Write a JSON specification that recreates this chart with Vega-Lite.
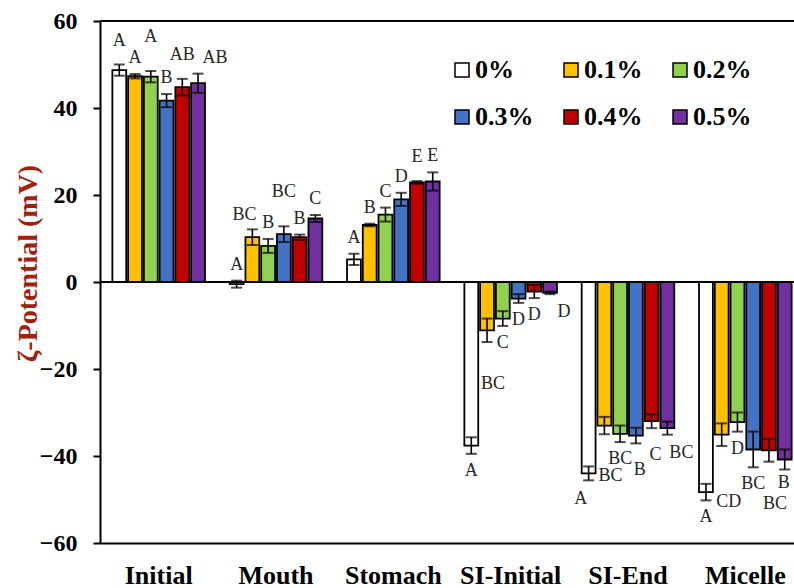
{
  "$schema": "https://vega.github.io/schema/vega-lite/v6.json",
  "width": 694,
  "height": 522,
  "autosize": {"type": "none"},
  "padding": {"left": 100, "top": 21, "right": 0, "bottom": 45},
  "background": "white",
  "config": {"view": {"stroke": null}, "text": {"font": "Liberation Serif", "fontSize": 18, "color": "#262626", "baseline": "middle"}},
  "data": {"values": [
    {"stage": "Initial", "conc": "0%", "value": 48.7, "err": 1.3, "sig": "A"},
    {"stage": "Initial", "conc": "0.1%", "value": 47.3, "err": 0.5, "sig": "A"},
    {"stage": "Initial", "conc": "0.2%", "value": 47.2, "err": 1.3, "sig": "A"},
    {"stage": "Initial", "conc": "0.3%", "value": 41.7, "err": 1.5, "sig": "B"},
    {"stage": "Initial", "conc": "0.4%", "value": 44.8, "err": 1.9, "sig": "AB"},
    {"stage": "Initial", "conc": "0.5%", "value": 45.7, "err": 2.2, "sig": "AB"},
    {"stage": "Mouth", "conc": "0%", "value": -0.5, "err": 0.8, "sig": "A"},
    {"stage": "Mouth", "conc": "0.1%", "value": 10.3, "err": 1.8, "sig": "BC"},
    {"stage": "Mouth", "conc": "0.2%", "value": 8.3, "err": 1.6, "sig": "B"},
    {"stage": "Mouth", "conc": "0.3%", "value": 11.0, "err": 1.8, "sig": "BC"},
    {"stage": "Mouth", "conc": "0.4%", "value": 10.3, "err": 0.6, "sig": "B"},
    {"stage": "Mouth", "conc": "0.5%", "value": 14.6, "err": 0.8, "sig": "C"},
    {"stage": "Stomach", "conc": "0%", "value": 5.2, "err": 1.3, "sig": "A"},
    {"stage": "Stomach", "conc": "0.1%", "value": 13.1, "err": 0.3, "sig": "B"},
    {"stage": "Stomach", "conc": "0.2%", "value": 15.5, "err": 1.6, "sig": "C"},
    {"stage": "Stomach", "conc": "0.3%", "value": 19.0, "err": 1.5, "sig": "D"},
    {"stage": "Stomach", "conc": "0.4%", "value": 22.9, "err": 0.3, "sig": "E"},
    {"stage": "Stomach", "conc": "0.5%", "value": 23.1, "err": 2.1, "sig": "E"},
    {"stage": "SI-Initial", "conc": "0%", "value": -37.6, "err": 1.9, "sig": "A"},
    {"stage": "SI-Initial", "conc": "0.1%", "value": -11.1, "err": 2.7, "sig": "BC"},
    {"stage": "SI-Initial", "conc": "0.2%", "value": -8.4, "err": 1.7, "sig": "C"},
    {"stage": "SI-Initial", "conc": "0.3%", "value": -3.8, "err": 1.0, "sig": "D"},
    {"stage": "SI-Initial", "conc": "0.4%", "value": -2.2, "err": 1.5, "sig": "D"},
    {"stage": "SI-Initial", "conc": "0.5%", "value": -2.5, "err": 0.3, "sig": "D"},
    {"stage": "SI-End", "conc": "0%", "value": -44.0, "err": 1.6, "sig": "A"},
    {"stage": "SI-End", "conc": "0.1%", "value": -33.0, "err": 2.0, "sig": "BC"},
    {"stage": "SI-End", "conc": "0.2%", "value": -34.9, "err": 1.9, "sig": "BC"},
    {"stage": "SI-End", "conc": "0.3%", "value": -35.3, "err": 1.8, "sig": "B"},
    {"stage": "SI-End", "conc": "0.4%", "value": -32.0, "err": 1.6, "sig": "C"},
    {"stage": "SI-End", "conc": "0.5%", "value": -33.6, "err": 1.5, "sig": "BC"},
    {"stage": "Micelle", "conc": "0%", "value": -48.3, "err": 1.9, "sig": "A"},
    {"stage": "Micelle", "conc": "0.1%", "value": -35.1, "err": 2.6, "sig": "CD"},
    {"stage": "Micelle", "conc": "0.2%", "value": -32.2, "err": 2.2, "sig": "D"},
    {"stage": "Micelle", "conc": "0.3%", "value": -38.5, "err": 4.1, "sig": "BC"},
    {"stage": "Micelle", "conc": "0.4%", "value": -38.7, "err": 2.6, "sig": "BC"},
    {"stage": "Micelle", "conc": "0.5%", "value": -40.8, "err": 2.3, "sig": "B"}
  ]},
  "transform": [
    {"calculate": "datum.value - datum.err", "as": "lo"},
    {"calculate": "datum.value + datum.err", "as": "hi"},
    {"calculate": "datum.stage + '|' + datum.conc", "as": "key"}
  ],
  "encoding": {
    "x": {
      "field": "stage", "type": "nominal",
      "sort": ["Initial", "Mouth", "Stomach", "SI-Initial", "SI-End", "Micelle"],
      "scale": {"range": [0, 704], "paddingInner": 0.2, "paddingOuter": 0.1},
      "axis": {
        "title": null, "labelAngle": 0, "ticks": false, "tickSize": 0,
        "domainColor": "black", "domainWidth": 2,
        "labelFont": "Liberation Serif", "labelFontWeight": "bold", "labelFontSize": 26,
        "labelColor": "black", "labelPadding": 19
      }
    },
    "xOffset": {
      "field": "conc", "type": "nominal",
      "sort": ["0%", "0.1%", "0.2%", "0.3%", "0.4%", "0.5%"],
      "scale": {"paddingInner": 0.12, "paddingOuter": 0.04}
    }
  },
  "layer": [
    {
      "mark": {"type": "bar", "stroke": "black", "strokeWidth": 1.8},
      "encoding": {
        "y": {
          "field": "value", "type": "quantitative",
          "scale": {"domain": [-60, 60], "nice": false},
          "axis": {
            "values": [-60, -40, -20, 0, 20, 40, 60], "grid": false,
            "domainColor": "black", "domainWidth": 2,
            "tickColor": "black", "tickWidth": 2, "tickSize": 7,
            "labelFont": "Liberation Serif", "labelFontWeight": "bold", "labelFontSize": 24,
            "labelColor": "black", "labelPadding": 16,
            "title": "ζ-Potential (mV)",
            "titleFont": "Liberation Serif", "titleFontWeight": "bold", "titleFontSize": 28,
            "titleColor": "#A3200F", "titleX": -72, "titleY": 242, "titleBaseline": "middle"
          }
        },
        "fill": {
          "field": "conc", "type": "nominal",
          "sort": ["0%", "0.1%", "0.2%", "0.3%", "0.4%", "0.5%"],
          "scale": {
            "domain": ["0%", "0.1%", "0.2%", "0.3%", "0.4%", "0.5%"],
            "range": ["#FFFFFF", "#FFC000", "#92D050", "#4472C4", "#C00000", "#7030A0"]
          },
          "legend": {
            "title": null, "orient": "none", "legendX": 349, "legendY": 36,
            "columns": 3, "direction": "horizontal",
            "symbolType": "square", "symbolSize": 196,
            "symbolStrokeColor": "black", "symbolStrokeWidth": 1.5, "symbolOpacity": 1,
            "labelFont": "Liberation Serif", "labelFontWeight": "bold", "labelFontSize": 26,
            "labelColor": "black", "labelOffset": 0, "columnPadding": 24, "rowPadding": 21
          }
        }
      }
    },
    {
      "mark": {"type": "rule", "color": "black", "strokeWidth": 1.6},
      "encoding": {
        "y": {"field": "lo", "type": "quantitative"},
        "y2": {"field": "hi"}
      }
    },
    {
      "mark": {"type": "tick", "orient": "horizontal", "color": "black", "thickness": 2, "size": 11},
      "encoding": {"y": {"field": "lo", "type": "quantitative"}}
    },
    {
      "mark": {"type": "tick", "orient": "horizontal", "color": "black", "thickness": 2, "size": 11},
      "encoding": {"y": {"field": "hi", "type": "quantitative"}}
    },
    {
      "transform": [{"filter": {"and": [
        {"field": "stage", "oneOf": ["Initial", "Mouth", "Stomach"]},
        {"not": {"field": "key", "oneOf": ["Initial|0%", "Initial|0.4%", "Stomach|0.4%", "Initial|0.2%", "Mouth|0.3%", "Initial|0.5%", "Mouth|0.1%"]}}
      ]}}],
      "mark": {"type": "text", "dy": -16},
      "encoding": {"y": {"field": "hi", "type": "quantitative"}, "text": {"field": "sig"}}
    },
    {
      "transform": [{"filter": {"field": "key", "oneOf": ["Initial|0%", "Initial|0.4%", "Stomach|0.4%"]}}],
      "mark": {"type": "text", "dy": -24},
      "encoding": {"y": {"field": "hi", "type": "quantitative"}, "text": {"field": "sig"}}
    },
    {
      "transform": [{"filter": {"field": "key", "oneOf": ["Initial|0.2%", "Mouth|0.3%"]}}],
      "mark": {"type": "text", "dy": -34},
      "encoding": {"y": {"field": "hi", "type": "quantitative"}, "text": {"field": "sig"}}
    },
    {
      "transform": [{"filter": {"field": "key", "oneOf": ["Initial|0.5%"]}}],
      "mark": {"type": "text", "dy": -16, "dx": 17},
      "encoding": {"y": {"field": "hi", "type": "quantitative"}, "text": {"field": "sig"}}
    },
    {
      "transform": [{"filter": {"field": "key", "oneOf": ["Mouth|0.1%"]}}],
      "mark": {"type": "text", "dy": -14, "dx": -8},
      "encoding": {"y": {"field": "hi", "type": "quantitative"}, "text": {"field": "sig"}}
    },
    {
      "transform": [{"filter": {"and": [
        {"not": {"field": "stage", "oneOf": ["Initial", "Mouth", "Stomach"]}},
        {"not": {"field": "key", "oneOf": ["SI-End|0.1%", "Micelle|0.4%", "SI-Initial|0.1%", "Micelle|0.1%", "SI-End|0.3%", "SI-End|0.4%", "SI-End|0.5%", "SI-Initial|0.5%", "SI-End|0%", "Micelle|0.5%"]}}
      ]}}],
      "mark": {"type": "text", "dy": 17},
      "encoding": {"y": {"field": "lo", "type": "quantitative"}, "text": {"field": "sig"}}
    },
    {
      "transform": [{"filter": {"field": "key", "oneOf": ["SI-End|0.1%", "Micelle|0.4%", "SI-Initial|0.1%"]}}],
      "mark": {"type": "text", "dy": 42, "dx": 6},
      "encoding": {"y": {"field": "lo", "type": "quantitative"}, "text": {"field": "sig"}}
    },
    {
      "transform": [{"filter": {"field": "key", "oneOf": ["Micelle|0.1%"]}}],
      "mark": {"type": "text", "dy": 56, "dx": 7},
      "encoding": {"y": {"field": "lo", "type": "quantitative"}, "text": {"field": "sig"}}
    },
    {
      "transform": [{"filter": {"field": "key", "oneOf": ["SI-End|0.3%", "SI-End|0.4%"]}}],
      "mark": {"type": "text", "dy": 27, "dx": 4},
      "encoding": {"y": {"field": "lo", "type": "quantitative"}, "text": {"field": "sig"}}
    },
    {
      "transform": [{"filter": {"field": "key", "oneOf": ["SI-End|0.5%", "SI-Initial|0.5%"]}}],
      "mark": {"type": "text", "dy": 18, "dx": 14},
      "encoding": {"y": {"field": "lo", "type": "quantitative"}, "text": {"field": "sig"}}
    },
    {
      "transform": [{"filter": {"field": "key", "oneOf": ["SI-End|0%"]}}],
      "mark": {"type": "text", "dy": 19, "dx": -8},
      "encoding": {"y": {"field": "lo", "type": "quantitative"}, "text": {"field": "sig"}}
    },
    {
      "transform": [{"filter": {"field": "key", "oneOf": ["Micelle|0.5%"]}}],
      "mark": {"type": "text", "dy": 14, "dx": -1},
      "encoding": {"y": {"field": "lo", "type": "quantitative"}, "text": {"field": "sig"}}
    },
    {
      "data": {"values": [{"v": 0}, {"v": 60}]},
      "mark": {"type": "rule", "color": "black", "strokeWidth": 2},
      "encoding": {"y": {"field": "v", "type": "quantitative"}, "x": null, "xOffset": null}
    }
  ]
}
